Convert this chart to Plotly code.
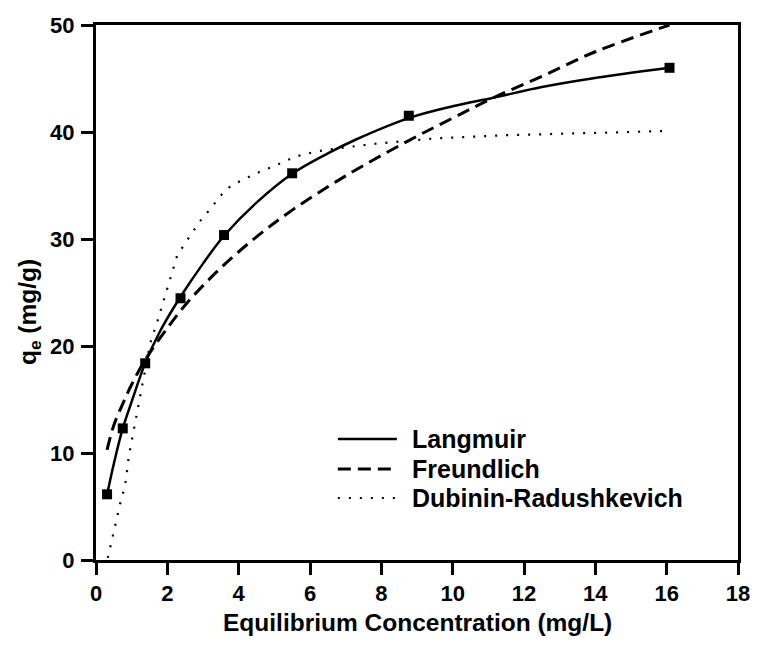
import plotly.graph_objects as go

# Equilibrium data: Ce (mg/L) vs qe (mg/g)
ce_data = [0.31, 0.75, 1.38, 2.37, 3.59, 5.50, 8.77, 16.08]
qe_data = [6.14, 12.3, 18.38, 24.46, 30.37, 36.14, 41.52, 46.0]

# Fitted isotherm curves, sampled along Ce
ce_langmuir = [0.31, 0.5, 0.75, 1.0, 1.38, 1.8, 2.37, 3.0, 3.59, 4.5, 5.5, 6.5, 7.29,
               8.77, 10.0, 11.14, 12.5, 13.9, 16.08]
qe_langmuir = [6.1, 9.0, 12.3, 14.8, 18.4, 21.4, 24.6, 27.7, 30.3, 33.4, 36.1, 38.0, 39.3,
               41.3, 42.4, 43.2, 44.2, 45.0, 46.0]

ce_freundlich = [0.31, 0.5, 0.75, 1.0, 1.38, 2.05, 2.6, 3.5, 4.5, 5.5, 7.0, 8.77, 10.0,
                 11.14, 12.5, 14.0, 16.08]
qe_freundlich = [10.3, 12.6, 14.6, 16.4, 18.7, 21.9, 24.2, 27.3, 30.2, 32.7, 35.9, 39.2, 41.3,
                 43.2, 45.2, 47.5, 50.0]

ce_dr = [0.33, 0.40, 0.47, 0.56, 0.63, 0.69, 0.78, 0.84, 0.92, 1.04, 1.23, 1.52, 1.73, 2.03,
         2.28, 2.74, 2.97, 3.23, 3.48, 3.72, 4.03, 4.35, 4.67, 4.99, 5.59, 6.2, 6.83, 7.84,
         9.5, 11.5, 13.6, 16.08]
qe_dr = [0.2, 1.24, 2.24, 3.36, 4.4, 5.45, 6.5, 7.5, 9.7, 11.8, 15.1, 20.25, 22.4, 25.6,
         28.5, 30.8, 31.9, 32.9, 34.0, 34.8, 35.4, 35.9, 36.4, 36.8, 37.7, 38.2, 38.5, 38.9,
         39.4, 39.7, 39.9, 40.1]

legend_names = ["Langmuir", "Freundlich", "Dubinin-Radushkevich"]

FONT = "Liberation Sans, Arial, sans-serif"
W, H = 762, 646
ML, MR, MT, MB = 96, 13, 25, 86

solid = dict(color="black", width=2.5)
dashed = dict(color="black", width=3, dash="13px,7px")
dotted = dict(color="black", width=2.2, dash="2px,9px")

fig = go.Figure()
fig.add_trace(go.Scatter(x=ce_langmuir, y=qe_langmuir, mode="lines", line=dict(**solid, shape="spline"),
                         name=legend_names[0], showlegend=False))
fig.add_trace(go.Scatter(x=ce_freundlich, y=qe_freundlich, mode="lines",
                         line=dict(**dashed, shape="spline"), name=legend_names[1], showlegend=False))
fig.add_trace(go.Scatter(x=ce_dr, y=qe_dr, mode="lines", line=dotted,
                         name=legend_names[2], showlegend=False))
fig.add_trace(go.Scatter(x=ce_data, y=qe_data, mode="markers",
                         marker=dict(symbol="square", size=10, color="black"),
                         showlegend=False, cliponaxis=False))

pw, ph = W - ML - MR, H - MT - MB


def px_x(p):
    return (p - ML) / pw


def px_y(p):
    return (H - MB - p) / ph


# Legend drawn as line samples with labels
legend_styles = [solid, dashed, dotted]
legend_rows = [439, 469, 498]
shapes = []
annotations = []
for name, style, yy in zip(legend_names, legend_styles, legend_rows):
    ln = dict(color=style["color"], width=style["width"])
    if "dash" in style:
        ln["dash"] = style["dash"]
    shapes.append(dict(type="line", xref="paper", yref="paper",
                       x0=px_x(342), x1=px_x(402), y0=px_y(yy), y1=px_y(yy), line=ln))
    annotations.append(dict(text=name, xref="paper", yref="paper", x=px_x(415), y=px_y(yy),
                            xanchor="left", yanchor="middle", showarrow=False,
                            font=dict(family=FONT, size=25, color="black", weight="bold")))

annotations.append(dict(text="Equilibrium Concentration (mg/L)", xref="paper", yref="paper",
                        x=0.5, y=0, yshift=-62, xanchor="center", yanchor="middle",
                        showarrow=False,
                        font=dict(family=FONT, size=24.5, color="black", weight="bold")))
annotations.append(dict(text="q<sub>e</sub> (mg/g)", xref="paper", yref="paper",
                        x=0, xshift=29 - ML, y=px_y(312), xanchor="center", yanchor="middle",
                        textangle=-90, showarrow=False,
                        font=dict(family=FONT, size=24.5, color="black", weight="bold")))

axis_common = dict(showline=True, linewidth=3, linecolor="black", mirror=True,
                   ticks="outside", ticklen=12, tickwidth=3, tickcolor="black",
                   showgrid=False, zeroline=False,
                   tickfont=dict(family=FONT, size=22, color="black", weight="bold"))

fig.update_xaxes(range=[0, 18], tick0=0, dtick=2, **axis_common)
fig.update_yaxes(range=[0, 50], tick0=0, dtick=10, ticklabelstandoff=2, **axis_common)

fig.update_layout(width=W, height=H, margin=dict(l=ML, r=MR, t=MT, b=MB),
                  plot_bgcolor="white", paper_bgcolor="white",
                  shapes=shapes, annotations=annotations, showlegend=False)

fig.write_html("out.html")
